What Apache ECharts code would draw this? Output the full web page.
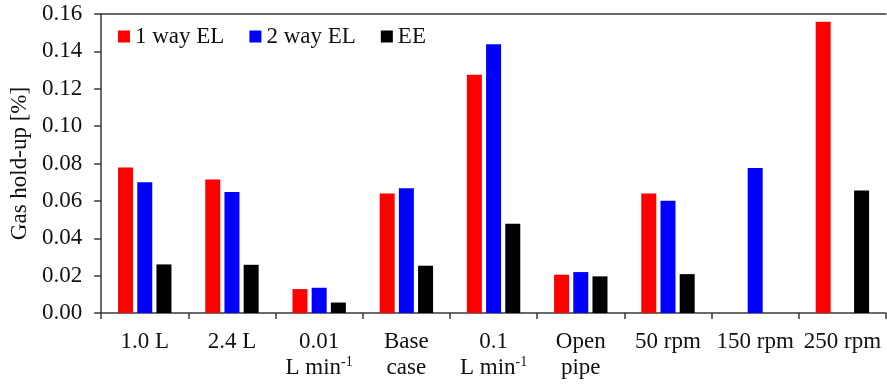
<!DOCTYPE html>
<html>
<head>
<meta charset="utf-8">
<script src="https://cdn.jsdelivr.net/npm/echarts@6/dist/echarts.min.js"></script>
<style>
  html, body { margin: 0; padding: 0; background: #fff; }
  #chart { width: 887px; height: 385px; }
</style>
</head>
<body>
<div id="chart"></div>
<script>
// Operating conditions on the x axis (two-line labels, "sup" marks the superscript)
const categories = ['1.0 L', '2.4 L', '0.01\nL min{sup|-1}', 'Base\ncase', '0.1\nL min{sup|-1}', 'Open\npipe', '50 rpm', '150 rpm', '250 rpm'];

// Gas hold-up [%] per configuration
const oneWayEL = [0.0778, 0.0714, 0.0128, 0.0639, 0.1275, 0.0205, 0.0639, null, 0.1559];
const twoWayEL = [0.0700, 0.0648, 0.0135, 0.0667, 0.1438, 0.0219, 0.0601, 0.0776, null];
const ee       = [0.0260, 0.0258, 0.0056, 0.0253, 0.0478, 0.0196, 0.0208, null, 0.0655];

const seriesNames = ['1 way EL', '2 way EL', 'EE'];
const yTicks = { min: 0, max: 0.16, step: 0.02 };

const FONT = '"Liberation Serif", "DejaVu Serif", serif';
const AXIS_COLOR = '#3a3a3a';
const TEXT_COLOR = '#111';

const chart = echarts.init(document.getElementById('chart'), null, { renderer: 'canvas' });

function bar(name, data, color) {
  return {
    name: name,
    type: 'bar',
    data: data,
    barWidth: 15,
    barGap: '28%',
    itemStyle: { color: color },
    emphasis: { disabled: true }
  };
}

chart.setOption({
  animation: false,
  backgroundColor: '#ffffff',
  textStyle: { fontFamily: FONT },
  legend: {
    left: 113,
    top: 20,
    itemWidth: 12,
    itemHeight: 12,
    itemGap: 25,
    icon: 'rect',
    textStyle: { fontFamily: FONT, fontSize: 23, color: TEXT_COLOR },
    data: seriesNames
  },
  grid: { left: 97, right: 1, top: 14, bottom: 72 },
  xAxis: [
    {
      type: 'category',
      data: categories,
      axisLine: { lineStyle: { color: AXIS_COLOR, width: 1.5 } },
      axisTick: { show: true, length: 6, inside: false, lineStyle: { color: AXIS_COLOR, width: 1.5 } },
      axisLabel: {
        color: TEXT_COLOR,
        fontFamily: FONT,
        fontSize: 23,
        lineHeight: 26,
        margin: 16,
        interval: 0,
        rich: {
          sup: { fontFamily: FONT, fontSize: 14, verticalAlign: 'top', lineHeight: 18, color: TEXT_COLOR }
        }
      }
    },
    {
      type: 'category',
      position: 'top',
      data: categories,
      axisLine: { lineStyle: { color: AXIS_COLOR, width: 1.5 } },
      axisTick: { show: false },
      axisLabel: { show: false }
    }
  ],
  yAxis: {
    type: 'value',
    min: yTicks.min,
    max: yTicks.max,
    interval: yTicks.step,
    name: 'Gas hold-up [%]',
    nameLocation: 'middle',
    nameGap: 61,
    nameTextStyle: { fontFamily: FONT, fontSize: 23, color: TEXT_COLOR },
    splitLine: { show: false },
    axisLine: { show: true, lineStyle: { color: AXIS_COLOR, width: 1.5 } },
    axisTick: { show: true, length: 7, lineStyle: { color: AXIS_COLOR, width: 1.5 } },
    axisLabel: {
      color: TEXT_COLOR,
      fontFamily: FONT,
      fontSize: 23,
      margin: 19,
      formatter: v => v.toFixed(2)
    }
  },
  series: [
    bar(seriesNames[0], oneWayEL, '#ff0000'),
    bar(seriesNames[1], twoWayEL, '#0000ff'),
    bar(seriesNames[2], ee, '#000000')
  ]
});
</script>
</body>
</html>
